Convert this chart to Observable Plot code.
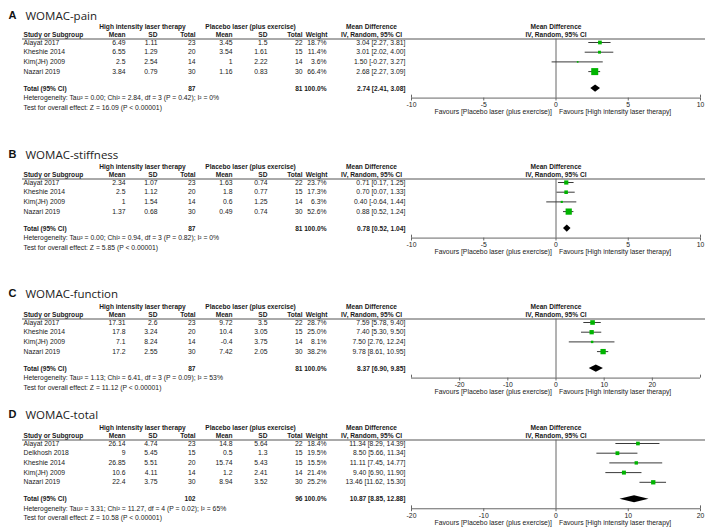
<!DOCTYPE html>
<html><head><meta charset="utf-8">
<script src="https://cdn.jsdelivr.net/npm/d3@7"></script>
<script src="https://cdn.jsdelivr.net/npm/@observablehq/plot@0.6"></script>
<style>
body{margin:0;background:#fff;}
#chart{width:708px;}
#chart svg{display:block;}
</style>
</head><body><div id="chart"></div>
<script>
// ---------- DATA ----------
const studies4 = ["Alayat 2017", "Kheshie 2014", "Kim(JH) 2009", "Nazari 2019"];
const studies5 = ["Alayat 2017", "Delkhosh 2018", "Kheshie 2014", "Kim(JH) 2009", "Nazari 2019"];

// A: WOMAC-pain
const painEMean = [6.49, 6.55, 2.5, 3.84];
const painESD   = [1.11, 1.29, 2.54, 0.79];
const painEN    = [23, 20, 14, 30];
const painCMean = [3.45, 3.54, 1, 1.16];
const painCSD   = [1.5, 1.61, 2.22, 0.83];
const painCN    = [22, 15, 14, 30];
const painWeight = [18.7, 11.4, 3.6, 66.4];
const painMD  = [3.04, 3.01, 1.50, 2.68];
const painLo  = [2.27, 2.02, -0.27, 2.27];
const painHi  = [3.81, 4.00, 3.27, 3.09];
const painTotalN = [87, 81];
const painPooled = [2.74, 2.41, 3.08];
const painHet = ["0.00", "2.84", 3, "0.42", 0];
const painZ = "16.09";

// B: WOMAC-stiffness
const stiffEMean = [2.34, 2.5, 1, 1.37];
const stiffESD   = [1.07, 1.12, 1.54, 0.68];
const stiffEN    = [23, 20, 14, 30];
const stiffCMean = [1.63, 1.8, 0.6, 0.49];
const stiffCSD   = [0.74, 0.77, 1.25, 0.74];
const stiffCN    = [22, 15, 14, 30];
const stiffWeight = [23.7, 17.3, 6.3, 52.6];
const stiffMD  = [0.71, 0.70, 0.40, 0.88];
const stiffLo  = [0.17, 0.07, -0.64, 0.52];
const stiffHi  = [1.25, 1.33, 1.44, 1.24];
const stiffTotalN = [87, 81];
const stiffPooled = [0.78, 0.52, 1.04];
const stiffHet = ["0.00", "0.94", 3, "0.82", 0];
const stiffZ = "5.85";

// C: WOMAC-function
const funcEMean = [17.31, 17.8, 7.1, 17.2];
const funcESD   = [2.6, 3.24, 8.24, 2.55];
const funcEN    = [23, 20, 14, 30];
const funcCMean = [9.72, 10.4, -0.4, 7.42];
const funcCSD   = [3.5, 3.05, 3.75, 2.05];
const funcCN    = [22, 15, 14, 30];
const funcWeight = [28.7, 25.0, 8.1, 38.2];
const funcMD  = [7.59, 7.40, 7.50, 9.78];
const funcLo  = [5.78, 5.30, 2.76, 8.61];
const funcHi  = [9.40, 9.50, 12.24, 10.95];
const funcTotalN = [87, 81];
const funcPooled = [8.37, 6.90, 9.85];
const funcHet = ["1.13", "6.41", 3, "0.09", 53];
const funcZ = "11.12";

// D: WOMAC-total
const totEMean = [26.14, 9, 26.85, 10.6, 22.4];
const totESD   = [4.74, 5.45, 5.51, 4.11, 3.75];
const totEN    = [23, 15, 20, 14, 30];
const totCMean = [14.8, 0.5, 15.74, 1.2, 8.94];
const totCSD   = [5.64, 1.3, 5.43, 2.41, 3.52];
const totCN    = [22, 15, 15, 14, 30];
const totWeight = [18.4, 19.5, 15.5, 21.4, 25.2];
const totMD  = [11.34, 8.50, 11.11, 9.40, 13.46];
const totLo  = [8.29, 5.66, 7.45, 6.90, 11.62];
const totHi  = [14.39, 11.34, 14.77, 11.90, 15.30];
const totTotalN = [102, 96];
const totPooled = [10.87, 8.85, 12.88];
const totHet = ["3.31", "11.27", 4, "0.02", 65];
const totZ = "10.58";

const ticksAB = [-10, -5, 0, 5, 10];
const ticksCD = [-20, -10, 0, 10, 20];
const limits = [10, 10, 30, 20];

const groupE = "High intensity laser therapy";
const groupC = "Placebo laser (plus exercise)";
const favLeft = "Favours [Placebo laser (plus exercise)]";
const favRight = "Favours [High intensity laser therapy]";

// ---------- LAYOUT ----------
const FONT = "'Liberation Sans', Arial, sans-serif";
const FS = 6.8;
const ROW = 9.7;
const TXT = "#1a1a1a";

const panels = [
  {letter: "A", title: "WOMAC-pain", studies: studies4, eMean: painEMean, eSD: painESD, eN: painEN, cMean: painCMean, cSD: painCSD, cN: painCN, w: painWeight, md: painMD, lo: painLo, hi: painHi, totN: painTotalN, pooled: painPooled, het: painHet, z: painZ, lim: limits[0], ticks: ticksAB, height: 139, first: 42},
  {letter: "B", title: "WOMAC-stiffness", studies: studies4, eMean: stiffEMean, eSD: stiffESD, eN: stiffEN, cMean: stiffCMean, cSD: stiffCSD, cN: stiffCN, w: stiffWeight, md: stiffMD, lo: stiffLo, hi: stiffHi, totN: stiffTotalN, pooled: stiffPooled, het: stiffHet, z: stiffZ, lim: limits[1], ticks: ticksAB, height: 139, first: 43},
  {letter: "C", title: "WOMAC-function", studies: studies4, eMean: funcEMean, eSD: funcESD, eN: funcEN, cMean: funcCMean, cSD: funcCSD, cN: funcCN, w: funcWeight, md: funcMD, lo: funcLo, hi: funcHi, totN: funcTotalN, pooled: funcPooled, het: funcHet, z: funcZ, lim: limits[2], ticks: ticksCD, height: 121, first: 44},
  {letter: "D", title: "WOMAC-total", studies: studies5, eMean: totEMean, eSD: totESD, eN: totEN, cMean: totCMean, cSD: totCSD, cN: totCN, w: totWeight, md: totMD, lo: totLo, hi: totHi, totN: totTotalN, pooled: totPooled, het: totHet, z: totZ, lim: limits[3], ticks: ticksCD, height: 130, first: 44}
];

const ciText = (m, l, h) => `${m.toFixed(2)} [${l.toFixed(2)}, ${h.toFixed(2)}]`;

function panel(p) {
  const n = p.studies.length;
  const rows = p.studies.map((s, i) => ({
    row: i, study: s, eMean: String(p.eMean[i]), eSD: String(p.eSD[i]), eN: String(p.eN[i]),
    cMean: String(p.cMean[i]), cSD: String(p.cSD[i]), cN: String(p.cN[i]),
    weight: p.w[i].toFixed(1) + "%", w: p.w[i], md: p.md[i], lo: p.lo[i], hi: p.hi[i],
    ci: ciText(p.md[i], p.lo[i], p.hi[i])
  }));
  const totalRow = (n - 1) + 1.75;
  const hetRow = totalRow + 0.98;
  const testRow = hetRow + 0.98;
  const h1 = -1.65, h2 = -0.77, ul = -0.36;
  const base = {fontFamily: FONT, fontSize: FS, fill: TXT};
  const L = (dx, anchor) => ({frameAnchor: "left", dx, textAnchor: anchor});

  const cols = [
    ["study", 23, "start"], ["eMean", 125, "end"], ["eSD", 157, "end"], ["eN", 195, "end"],
    ["cMean", 232, "end"], ["cSD", 267, "end"], ["cN", 302, "end"], ["weight", 326, "end"], ["ci", 405, "end"]
  ];
  const hdr2 = [
    ["Study or Subgroup", 23, "start"], ["Mean", 125, "end"], ["SD", 157, "end"], ["Total", 195, "end"],
    ["Mean", 232, "end"], ["SD", 267, "end"], ["Total", 302, "end"], ["Weight", 327, "end"], ["IV, Random, 95% CI", 371, "middle"]
  ];
  const hdr1 = [[groupE, 142], [groupC, 250], ["Mean Difference", 371]];
  const totals = [
    ["Total (95% CI)", 23, "start"], [String(p.totN[0]), 195, "end"], [String(p.totN[1]), 302, "end"],
    ["100.0%", 326, "end"], [ciText(p.pooled[0], p.pooled[1], p.pooled[2]), 405, "end"]
  ];
  const diamond = [
    {x: p.pooled[1], y1: totalRow, y2: totalRow},
    {x: p.pooled[0], y1: totalRow - 0.37, y2: totalRow + 0.37},
    {x: p.pooled[2], y1: totalRow, y2: totalRow}
  ];
  const hetText = `Heterogeneity: Tau\u00b2 = ${p.het[0]}; Chi\u00b2 = ${p.het[1]}, df = ${p.het[2]} (P = ${p.het[3]}); I\u00b2 = ${p.het[4]}%`;
  const testText = `Test for overall effect: Z = ${p.z} (P < 0.00001)`;
  const bold = {...base, fontWeight: "bold", fontSize: 6.6};

  const marks = [
    Plot.text([p.letter], {text: d => d, frameAnchor: "top-left", dx: 8, dy: 11, textAnchor: "start", fontFamily: FONT, fontWeight: "bold", fontSize: 11, fill: "#111"}),
    Plot.text([p.title], {text: d => d, frameAnchor: "top-left", dx: 25, dy: 11, textAnchor: "start", fontFamily: "'Open Sans', sans-serif", fontSize: 11.5, fill: "#222"}),
    ...hdr1.map(([t, x]) => Plot.text([t], {text: d => d, y: h1, ...L(x, "middle"), ...bold})),
    ...hdr2.map(([t, x, a]) => Plot.text([t], {text: d => d, y: h2, ...L(x, a), ...bold})),
    Plot.text(["Mean Difference"], {text: d => d, x: 0, y: h1, textAnchor: "middle", ...bold}),
    Plot.text(["IV, Random, 95% CI"], {text: d => d, x: 0, y: h2, textAnchor: "middle", ...bold}),
    Plot.ruleY([ul], {y: d => d, insetLeft: 22, insetRight: 3, stroke: "#555", strokeWidth: 1}),
    ...cols.map(([f, x, a]) => Plot.text(rows, {text: f, y: "row", ...L(x, a), ...base})),
    ...totals.map(([t, x, a]) => Plot.text([t], {text: d => d, y: totalRow, ...L(x, a), ...bold})),
    Plot.text([hetText], {text: d => d, y: hetRow, ...L(23, "start"), ...base}),
    Plot.text([testText], {text: d => d, y: testRow, ...L(23, "start"), ...base}),
    Plot.ruleX([0], {x: d => d, y1: ul, y2: hetRow, stroke: "#666", strokeWidth: 1}),
    Plot.ruleY(rows, {y: "row", x1: "lo", x2: "hi", stroke: "#3a3a3a", strokeWidth: 1}),
    Plot.dot(rows, {x: "md", y: "row", r: "w", symbol: "square", fill: "#00b400", stroke: null}),
    Plot.areaY(diamond, {x: "x", y1: "y1", y2: "y2", fill: "#000", curve: "linear"}),
    Plot.ruleY([hetRow], {y: d => d, x1: -p.lim, x2: p.lim, stroke: "#666", strokeWidth: 1}),
    Plot.ruleX(p.ticks, {x: d => d, y1: hetRow, y2: hetRow + 0.3, stroke: "#666"}),
    Plot.ruleX([-p.lim, p.lim], {x: d => d, y1: hetRow - 0.3, y2: hetRow, stroke: "#666"}),
    Plot.text(p.ticks, {x: d => d, y: hetRow + 0.68, text: d => String(d), textAnchor: "middle", ...base}),
    Plot.text([favLeft], {text: d => d, x: 0, y: hetRow + 1.45, dx: -4, textAnchor: "end", ...base}),
    Plot.text([favRight], {text: d => d, x: 0, y: hetRow + 1.45, dx: 3, textAnchor: "start", ...base})
  ];

  return Plot.plot({
    width: 708,
    height: p.height,
    margin: 0,
    style: {background: "#fff", overflow: "visible"},
    x: {domain: [-p.lim, p.lim], range: [411, 700], axis: null},
    y: {domain: [0, 1], range: [p.first, p.first + ROW], axis: null},
    r: {type: "sqrt", domain: [0, 100], range: [0, 4.85]},
    marks
  });
}

const chart = document.getElementById("chart");
panels.forEach(p => chart.appendChild(panel(p)));
</script>
</body></html>
